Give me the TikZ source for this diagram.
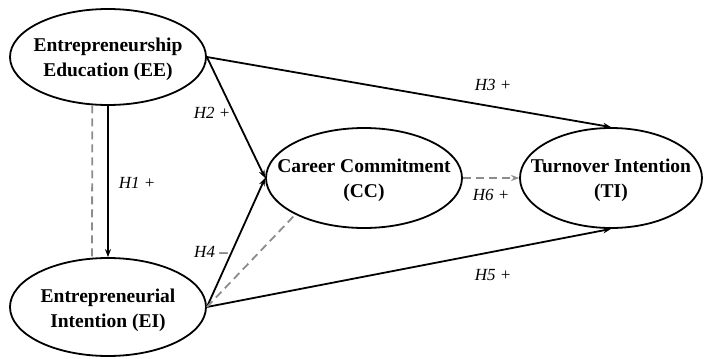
\documentclass[tikz,border=0pt]{standalone}
\usepackage{fontspec}
\setmainfont{Liberation Serif}
\usetikzlibrary{shapes.geometric,arrows.meta}
\begin{document}
\begin{tikzpicture}[x=1pt,y=-1pt,
  construct/.style={ellipse,draw,line width=1.8pt,inner sep=0pt},
  ctext/.style={font=\fontsize{19.5}{25}\selectfont\bfseries,align=center},
  hyp/.style={font=\fontsize{17}{20}\selectfont\itshape,inner sep=0pt},
  path/.style={line width=1.8pt,-{Stealth[length=8pt,width=6pt]}},
  gpath/.style={line width=1.8pt,draw=gray!90,dash pattern=on 8pt off 5pt},
]
\useasboundingbox (0,0) rectangle (705,359);
\node[construct,minimum width=196pt,minimum height=96pt] (ee) at (108,57) {};
\node[ctext] (eet) at (108,59) {Entrepreneurship\\Education (EE)};
\node[construct,minimum width=196pt,minimum height=98pt] (ei) at (108,307) {};
\node[ctext] (eit) at (108,310) {Entrepreneurial\\Intention (EI)};
\node[construct,minimum width=196pt,minimum height=100pt] (cc) at (364,178) {};
\node[ctext] (cct) at (364,180) {Career Commitment\\(CC)};
\node[construct,minimum width=182pt,minimum height=100pt] (ti) at (611,178) {};
\node[ctext] (tit) at (611,180) {Turnover Intention\\(TI)};

\draw[gpath] (ee.252) -- (ei.108);
\draw[path] (ee.south) -- (ei.north);
\draw[path] (ee.east) -- (ti.north);
\draw[path] (ee.east) -- (cc.west);
\draw[path] (ei.east) -- (cc.west);
\draw[path] (ei.east) -- (ti.south);
\draw[gpath] (ei.east) -- (cc.208);
\draw[gpath,-{Stealth[length=8pt,width=6pt]}] (cc.east) -- (ti.west);

\node[hyp] (h1) at (137,183) {H1 +};
\node[hyp] (h2) at (212,113) {H2 +};
\node[hyp] (h3) at (493,85) {H3 +};
\node[hyp] (h4) at (211,252) {H4 \textendash};
\node[hyp] (h5) at (493,275) {H5 +};
\node[hyp] (h6) at (491,195) {H6 +};
\end{tikzpicture}
\end{document}
